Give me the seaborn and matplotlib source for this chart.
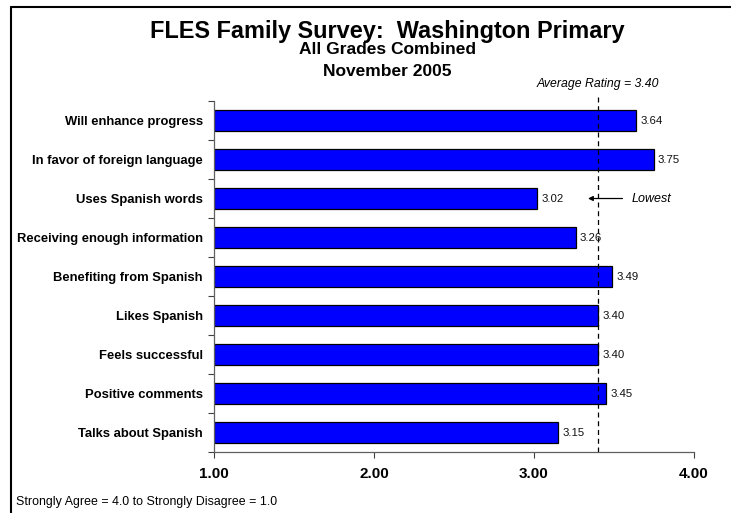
import matplotlib
matplotlib.use("Agg")
import matplotlib.pyplot as plt
from matplotlib.lines import Line2D
import seaborn as sns
import pandas as pd
import numpy as np

categories = [
    "Will enhance progress",
    "In favor of foreign language",
    "Uses Spanish words",
    "Receiving enough information",
    "Benefiting from Spanish",
    "Likes Spanish",
    "Feels successful",
    "Positive comments",
    "Talks about Spanish",
]
ratings = [3.64, 3.75, 3.02, 3.26, 3.49, 3.40, 3.40, 3.45, 3.15]
average_rating = 3.40
lowest_item = "Uses Spanish words"
x_ticks = [1.0, 2.0, 3.0, 4.0]

sns.set_theme(style="white")
plt.rcParams["font.family"] = ["Liberation Sans", "DejaVu Sans"]
plt.rcParams["text.color"] = "black"
plt.rcParams["xtick.color"] = "black"
plt.rcParams["ytick.color"] = "black"
plt.rcParams["axes.labelcolor"] = "black"

df = pd.DataFrame({"item": categories, "rating": ratings})

fig = plt.figure(figsize=(7.31, 5.13), dpi=100)
ax = fig.add_axes([0.2928, 0.1189, 0.6566, 0.6842])

sns.barplot(data=df, x="rating", y="item", orient="h", color="#0000FF",
            saturation=1, edgecolor="black", linewidth=0.9, width=0.52, ax=ax)

ax.set_xlim(1.0, 4.0)
ax.set_ylim(len(categories) - 0.5, -0.5)
ax.set_xticks(x_ticks)
ax.set_xticklabels([f"{t:.2f}" for t in x_ticks], fontsize=11, fontweight="bold")
ax.set_xlabel("")
ax.set_ylabel("")

# bars start at the left edge of the scale
for p in ax.patches:
    p.set_x(1.0)
    p.set_width(p.get_width() - 1.0)

ax.set_yticks(range(len(categories)))
ax.set_yticklabels(categories, fontsize=9.4, fontweight="bold")
ax.tick_params(axis="y", which="major", length=0, pad=8, labelcolor="black")
ax.set_yticks(np.arange(-0.5, len(categories), 1.0), minor=True)
ax.tick_params(axis="y", which="minor", left=True, length=4, width=0.8, color="#404040",
               direction="out")
ax.tick_params(axis="x", which="major", bottom=True, length=4, width=0.8, color="#404040",
               direction="out", pad=7, labelcolor="black")

for side in ["top", "right"]:
    ax.spines[side].set_visible(False)
for side in ["left", "bottom"]:
    ax.spines[side].set_color("#606060")
    ax.spines[side].set_linewidth(0.9)
ax.grid(False)

# value labels
for i, v in enumerate(ratings):
    ax.text(v + 0.025, i, f"{v:.2f}", va="center", ha="left", fontsize=8.2, color="#101010")

# average line
ax.plot([average_rating, average_rating], [len(categories) - 0.5, -0.6],
        color="black", linestyle=(0, (4, 3)), linewidth=0.9, clip_on=False)
ax.text(average_rating, -0.94, f"Average Rating = {average_rating:.2f}",
        ha="center", va="center", fontsize=8.8, style="italic")

# lowest marker
li = categories.index(lowest_item)
ax.annotate("", xy=(3.32, li), xytext=(3.57, li),
            arrowprops=dict(arrowstyle="-|>", color="black", lw=0.9,
                            mutation_scale=7))
ax.text(3.61, li, "Lowest", ha="left", va="center", fontsize=9, style="italic")

# titles
fig.text(0.530, 1 - 38 / 513, "FLES Family Survey:  Washington Primary", ha="center",
         va="baseline", fontsize=16.9, fontweight="bold")
fig.text(0.530, 1 - 54 / 513, "All Grades Combined", ha="center", va="baseline",
         fontsize=12.5, fontweight="bold")
fig.text(0.530, 1 - 76.5 / 513, "November 2005", ha="center", va="baseline",
         fontsize=12.5, fontweight="bold")
fig.text(16 / 731, 1 - 505 / 513, "Strongly Agree = 4.0 to Strongly Disagree = 1.0",
         ha="left", va="baseline", fontsize=8.9)

# frame
fig.add_artist(Line2D([11 / 731, 11 / 731], [0, 1 - 7 / 513], color="black", lw=1.5,
                      transform=fig.transFigure))
fig.add_artist(Line2D([11 / 731, 1.0], [1 - 7 / 513, 1 - 7 / 513], color="black", lw=1.5,
                      transform=fig.transFigure))

fig.savefig("out.png", dpi=100)
